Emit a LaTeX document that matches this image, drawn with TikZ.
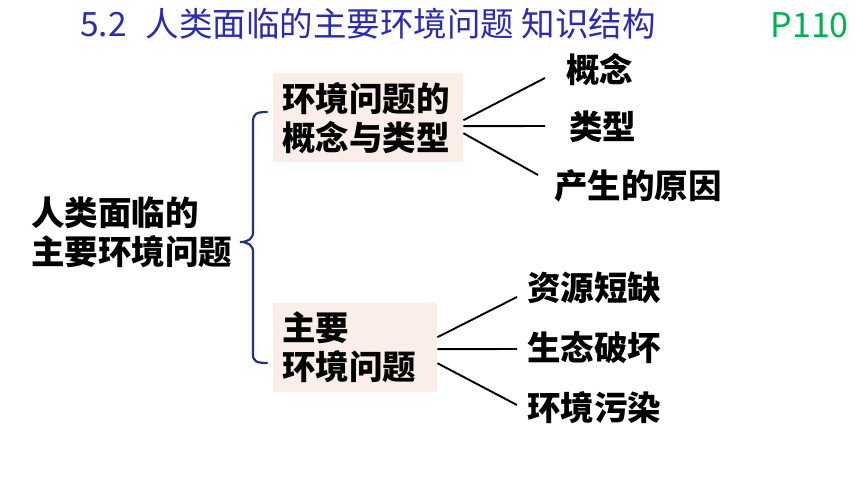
\documentclass[tikz,border=0pt]{standalone}
\usepackage{fontspec}
\setmainfont{Noto Sans CJK SC}
\usetikzlibrary{positioning}

\definecolor{titleblue}{RGB}{42,42,178}
\definecolor{pagegreen}{RGB}{0,176,80}
\definecolor{boxpink}{RGB}{251,238,232}
\definecolor{bracenavy}{RGB}{30,52,118}

\begin{document}
\begin{tikzpicture}[x=1pt,y=-1pt,
        topic/.style={font=\fontsize{33.5}{39}\selectfont\bfseries, align=left, inner sep=0pt},
        group/.style={topic, fill=boxpink, anchor=north west, inner xsep=9pt, inner ysep=0pt, minimum height=89pt},
        leaf/.style={font=\fontsize{33.5}{39}\selectfont\bfseries, anchor=west, inner sep=0pt},
        link/.style={line width=1.9pt},
        brace/.style={draw=bracenavy, line width=2.2pt, line cap=round}]
        \useasboundingbox (0,0) rectangle (860,484);
        % title line
        \node[anchor=base west, text=titleblue, font=\fontsize{33.5}{39}\selectfont, inner sep=0pt] (t) at (80,37) {5.2\hspace{19pt}人类面临的主要环境问题 知识结构};
        \node[anchor=base east, text=pagegreen, font=\fontsize{34}{40}\selectfont, inner sep=0pt] (p) at (849,38) {P110};
        % root and the two groups
        \node[topic, anchor=west] (r) at (31,232) {人类面临的\\主要环境问题};
        \node[group, text width=172pt] (a) at (273,73) {环境问题的\\概念与类型};
        \node[group, text width=146pt] (b) at (273,303) {主要\\环境问题};
        % leaves
        \node[leaf] (c1) at (566,70) {概念};
        \node[leaf] (c2) at (569,127) {类型};
        \node[leaf] (c3) at (554,186) {产生的原因};
        \node[leaf] (d1) at (527,288) {资源短缺};
        \node[leaf] (d2) at (527,348) {生态破坏};
        \node[leaf] (d3) at (527,408) {环境污染};
        % brace
        \coordinate (bt) at (267,112);
        \coordinate (bm) at (240,242);
        \coordinate (bb) at (267,363);
        \draw[brace] (bt) .. controls (256,112) and (253,114) .. (253,122) -- (253,232)
            .. controls (253,239) and (248,242) .. (bm)
            .. controls (248,242) and (253,245) .. (253,252) -- (253,354)
            .. controls (253,361) and (256,363) .. (bb);
        % links
        \draw[link] ([yshift=-2.5pt]a.east) -- ([xshift=-21pt,yshift=-8pt]c1.west);
        \draw[link] ([yshift=-8.5pt]a.east) -- ([xshift=-24pt,yshift=1pt]c2.west);
        \draw[link] ([yshift=-15.5pt]a.east) -- ([xshift=-16pt,yshift=11pt]c3.west);
        \draw[link] ([yshift=10.5pt]b.east) -- ([xshift=-10pt,yshift=-9pt]d1.west);
        \draw[link] ([yshift=-1.5pt]b.east) -- ([xshift=-10pt,yshift=-1pt]d2.west);
        \draw[link] ([yshift=-15.5pt]b.east) -- ([xshift=-10pt,yshift=3pt]d3.west);
\end{tikzpicture}
\end{document}
